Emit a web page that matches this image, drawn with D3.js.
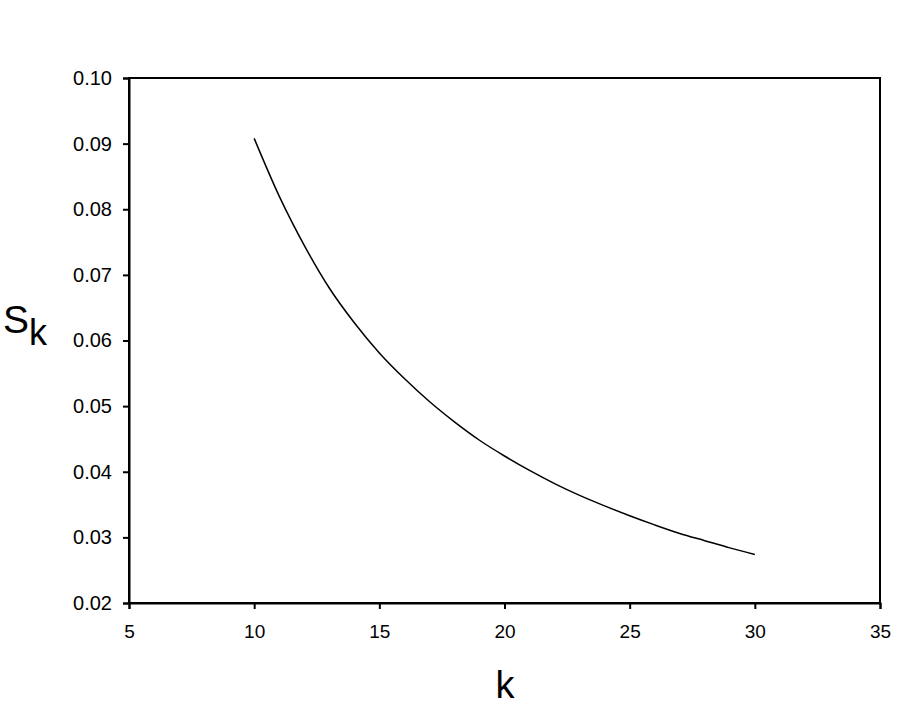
<!DOCTYPE html>
<html>
<head>
<meta charset="utf-8">
<script src="https://cdn.jsdelivr.net/npm/d3@7"></script>
<style>
  html, body { margin: 0; padding: 0; background: #fff; }
  svg { display: block; }
</style>
</head>
<body>
<svg id="chart" width="920" height="712"></svg>
<script>
// Data
const kValues = [10, 11, 12, 13, 14, 15, 16, 17, 18, 19, 20, 21, 22, 23, 24, 25, 26, 27, 28, 29, 30];
const skValues = [0.0908, 0.0820, 0.0745, 0.0680, 0.0627, 0.0581, 0.0542, 0.0507, 0.0476, 0.0448,
                  0.0424, 0.0402, 0.0382, 0.0364, 0.0348, 0.0333, 0.0319, 0.0306, 0.0295, 0.0284, 0.0274];
const xTicks = [5, 10, 15, 20, 25, 30, 35];
const yTicks = [0.02, 0.03, 0.04, 0.05, 0.06, 0.07, 0.08, 0.09, 0.10];

const svg = d3.select("#chart");
const mLeft = 129, mRight = 880, mTop = 78, mBottom = 603;

const x = d3.scaleLinear().domain([5, 35]).range([mLeft, mRight]);
const y = d3.scaleLinear().domain([0.02, 0.10]).range([mBottom, mTop]);

const font = "'Liberation Sans', Arial, sans-serif";

// Frame
svg.append("rect")
  .attr("x", mLeft).attr("y", mTop)
  .attr("width", mRight - mLeft).attr("height", mBottom - mTop)
  .attr("fill", "none").attr("stroke", "#000").attr("stroke-width", 2);

// X axis
const xAxis = svg.append("g")
  .attr("transform", `translate(0,${mBottom})`)
  .call(d3.axisBottom(x).tickValues(xTicks).tickSize(6).tickPadding(16).tickFormat(d3.format("d")));
xAxis.select(".domain").attr("stroke-width", 2);
xAxis.selectAll(".tick line").attr("stroke-width", 2);
xAxis.selectAll("text").attr("font-family", font).attr("font-size", 19).attr("fill", "#000");

// Y axis
const yAxis = svg.append("g")
  .attr("transform", `translate(${mLeft},0)`)
  .call(d3.axisLeft(y).tickValues(yTicks).tickSize(6).tickPadding(11).tickFormat(d3.format(".2f")));
yAxis.select(".domain").attr("stroke-width", 2);
yAxis.selectAll(".tick line").attr("stroke-width", 2);
yAxis.selectAll("text").attr("font-family", font).attr("font-size", 20).attr("fill", "#000");

// Curve
const data = kValues.map((k, i) => ({k, s: skValues[i]}));
svg.append("path")
  .datum(data)
  .attr("fill", "none")
  .attr("stroke", "#000")
  .attr("stroke-width", 1.5)
  .attr("d", d3.line().x(d => x(d.k)).y(d => y(d.s)).curve(d3.curveMonotoneX));

// X label
svg.append("text")
  .attr("x", 505).attr("y", 698)
  .attr("text-anchor", "middle")
  .attr("font-family", font).attr("font-size", 38)
  .text("k");

// Y label "Sk" with subscript k
const yl = svg.append("text")
  .attr("x", 3).attr("y", 333)
  .attr("font-family", font).attr("font-size", 39);
yl.append("tspan").text("S");
yl.append("tspan").attr("dy", 12).attr("font-size", 36).text("k");
</script>
</body>
</html>
